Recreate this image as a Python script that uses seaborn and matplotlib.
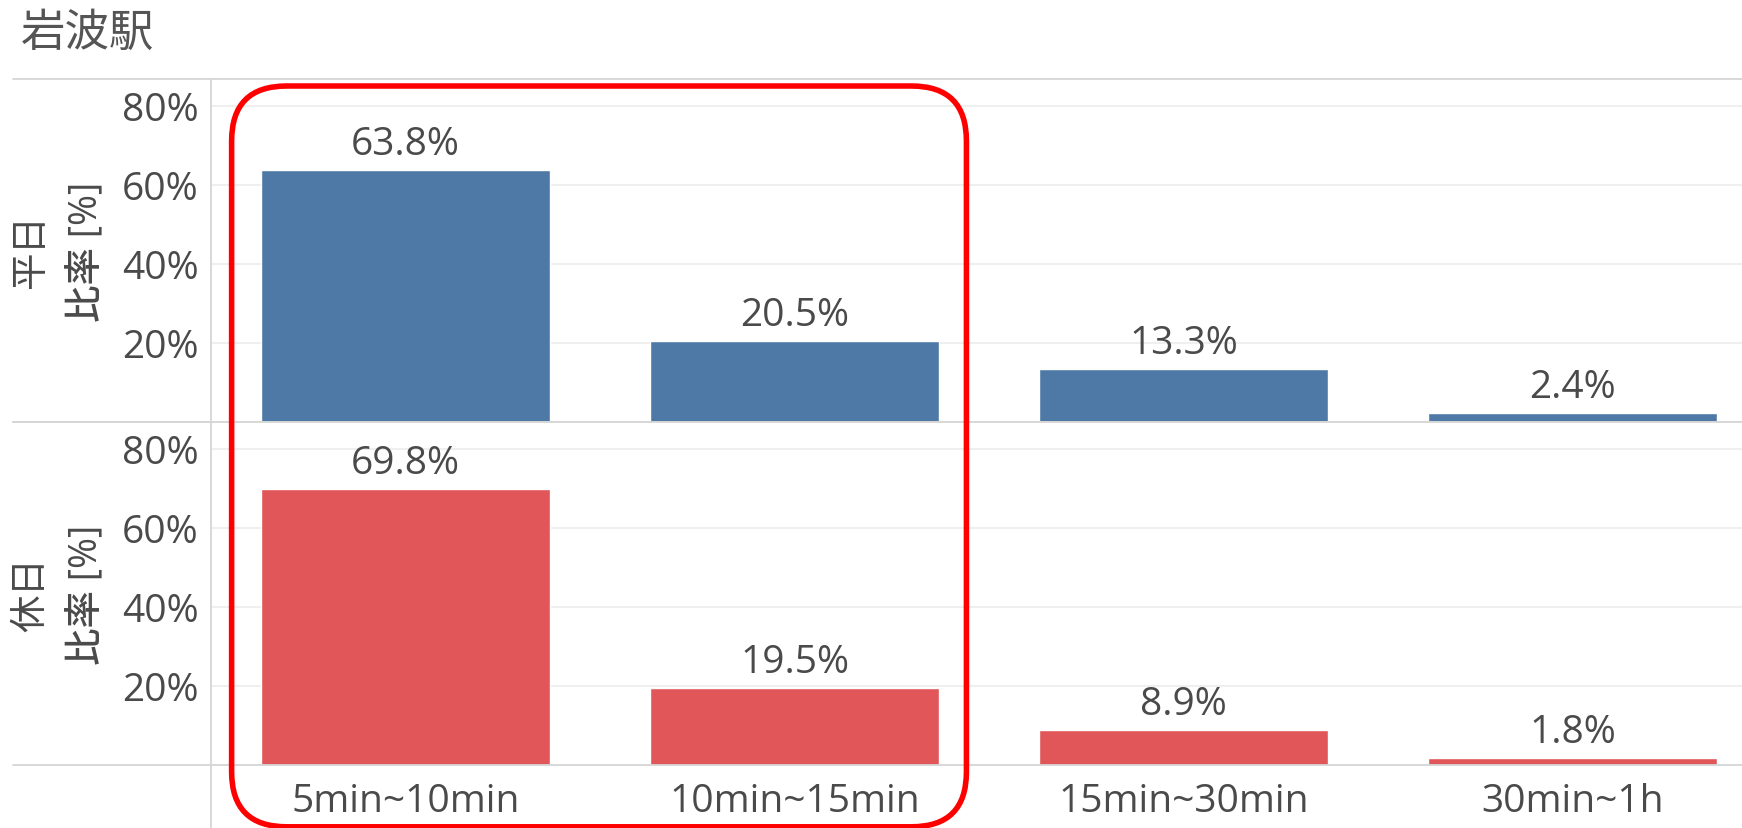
import matplotlib
matplotlib.use("Agg")
import matplotlib.pyplot as plt
import seaborn as sns
from matplotlib.patches import FancyBboxPatch
from matplotlib.ticker import FuncFormatter

# data
categories = ['5min~10min', '10min~15min', '15min~30min', '30min~1h']
weekday = [63.8, 20.5, 13.3, 2.4]
holiday = [69.8, 19.5, 8.9, 1.8]
y_ticks = [20, 40, 60, 80]
station = '岩波駅'
row_names = ['平日', '休日']
measure_name = '比率 [%]'

BLUE = '#4E79A7'
RED = '#E15759'
TXT = '#4a4a4a'
LINE = '#d6d6d6'

sns.set_theme(style='white')
plt.rcParams['font.family'] = ['Open Sans', 'Noto Sans CJK JP', 'DejaVu Sans']

W, H, DPI = 1742, 829, 100
fig = plt.figure(figsize=(W / DPI, H / DPI), dpi=DPI)

left_px = 211
step_px = 389  # one category slot
panel_tops = [80, 423]
panel_h = 343
x_max = -0.5 + (W - left_px) / step_px

axes = []
for i, (vals, color) in enumerate([(weekday, BLUE), (holiday, RED)]):
    top = panel_tops[i]
    ax = fig.add_axes([left_px / W, (H - top - panel_h) / H, (W - left_px) / W, panel_h / H])
    sns.barplot(x=categories, y=vals, color=color, saturation=1, width=0.745, ax=ax)
    ax.set_xlim(-0.5, x_max)
    ax.set_ylim(0, 86.8)
    ax.set_yticks(y_ticks)
    ax.yaxis.set_major_formatter(FuncFormatter(lambda v, p: f"{v:.0f}%"))
    ax.yaxis.grid(True, color='#efefef', lw=1.5)
    ax.set_axisbelow(True)
    for s in ax.spines.values():
        s.set_visible(False)
    ax.tick_params(axis='y', length=0, pad=9, labelsize=28, labelcolor=TXT)
    ax.tick_params(axis='x', length=0, pad=12, labelsize=28, labelcolor=TXT)
    ax.set_xlabel('')
    ax.set_ylabel('')
    ax.bar_label(ax.containers[0], labels=[f"{v:.1f}%" for v in vals],
                 padding=5, fontsize=28, color=TXT)

    # panel divider lines (Tableau style)
    ext = -(left_px - 13) / (W - left_px)
    ax.plot([ext, 1], [1, 1], transform=ax.transAxes, color=LINE, lw=1.3, clip_on=False)
    ax.plot([ext, 1], [0, 0], transform=ax.transAxes, color=LINE, lw=1.3, clip_on=False)
    y_low = -(H - (top + panel_h)) / panel_h if i == 1 else 0
    ax.plot([0, 0], [y_low, 1], transform=ax.transAxes, color=LINE, lw=1.3, clip_on=False)

    # row header + measure title, rotated
    yc = 1 - (top + panel_h / 2) / H
    fig.text(31 / W, yc, row_names[i], rotation=90, ha='center', va='center',
             fontsize=27, color=TXT)
    fig.text(87 / W, yc, measure_name, rotation=90, ha='center', va='center',
             fontsize=27, color=TXT, fontweight='medium')
    axes.append(ax)

axes[0].set_xticklabels([])
axes[1].set_xticks([0.5, 1.5, 2.5], minor=True)
axes[1].tick_params(axis='x', which='minor', length=7, width=1, color='#e6e6e6', direction='out')

fig.text(21 / W, 1 - 35 / H, station, ha='left', va='center', fontsize=32, color='#555555')

# red highlight around the first two categories
x0 = axes[1].transData.transform((-0.447, 0))[0] / DPI
x1 = axes[1].transData.transform((1.442, 0))[0] / DPI
y_top = (H - 87) / DPI
y_bot = 0.012
box = FancyBboxPatch((x0, y_bot), x1 - x0, y_top - y_bot,
                     boxstyle='round,pad=0,rounding_size=0.55',
                     transform=fig.dpi_scale_trans, fill=False,
                     ec='#ff0000', lw=4, clip_on=False)
fig.add_artist(box)

fig.savefig('out.png', dpi=DPI)
